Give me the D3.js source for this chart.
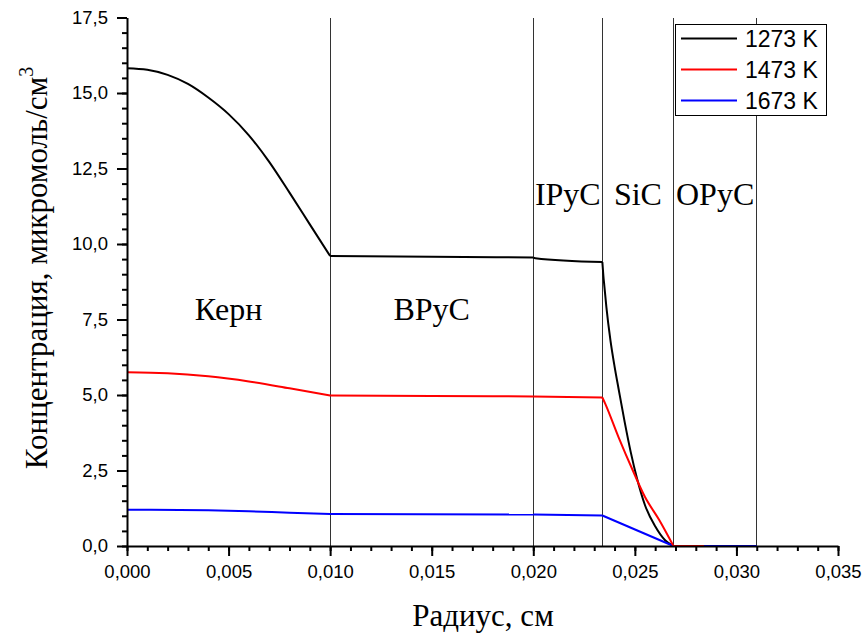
<!DOCTYPE html>
<html>
<head>
<meta charset="utf-8">
<script src="https://cdn.jsdelivr.net/npm/d3@7"></script>
<style>
  html, body { margin: 0; padding: 0; background: #fff; }
  svg { display: block; }
</style>
</head>
<body>
<svg id="chart" width="866" height="638"></svg>
<script>
// ---------- data ----------
const seriesNames = ["1273 K", "1473 K", "1673 K"];
const seriesColors = ["#000000", "#ff0000", "#0000ff"];

const r1273 = [0, 0.001, 0.002, 0.003, 0.004, 0.005, 0.006, 0.007, 0.008, 0.009, 0.010,
               0.015, 0.020, 0.0201, 0.0234, 0.02345, 0.0235, 0.0236, 0.0238, 0.0240, 0.0242,
               0.0245, 0.0248, 0.0251, 0.0255, 0.0260, 0.0265, 0.0269, 0.0284];
const c1273 = [15.82, 15.77, 15.6, 15.3, 14.85, 14.3, 13.6, 12.72, 11.7, 10.65, 9.6,
               9.58, 9.55, 9.53, 9.40, 8.95, 8.6, 7.9, 6.8, 5.95, 5.2,
               4.1, 3.1, 2.25, 1.35, 0.65, 0.18, 0, 0];

const r1473 = [0, 0.002, 0.004, 0.006, 0.008, 0.010, 0.015, 0.020, 0.0234, 0.02355,
               0.0242, 0.0249, 0.0255, 0.0262, 0.0269, 0.0284];
const c1473 = [5.75, 5.72, 5.62, 5.45, 5.22, 4.98, 4.97, 4.95, 4.92, 4.7,
               3.6, 2.5, 1.62, 0.86, 0, 0];

const r1673 = [0, 0.004, 0.006, 0.008, 0.010, 0.020, 0.0234, 0.0269, 0.031];
const c1673 = [1.2, 1.18, 1.15, 1.1, 1.06, 1.04, 1.01, 0, 0];

const layerBounds = [0, 0.010, 0.020, 0.0234, 0.0269, 0.031];
const layerNames = ["Керн", "BPyC", "IPyC", "SiC", "OPyC"];
const layerLabelY = [7.5, 7.5, 11.3, 11.3, 11.3];

const xTicks = [0, 0.005, 0.010, 0.015, 0.020, 0.025, 0.030, 0.035];
const yTicks = [0, 2.5, 5.0, 7.5, 10.0, 12.5, 15.0, 17.5];

// ---------- layout ----------
const svg = d3.select("#chart");
const mLeft = 127, mRight = 838, mTop = 17.5, mBottom = 546;

const x = d3.scaleLinear().domain([0, 0.035]).range([mLeft, mRight]);
const y = d3.scaleLinear().domain([0, 17.5]).range([mBottom, mTop]);

const fmtX = v => d3.format(".3f")(v).replace(".", ",");
const fmtY = v => d3.format(".1f")(v).replace(".", ",");

// layer boundary lines
svg.append("g").selectAll("line")
  .data(layerBounds.slice(1))
  .join("line")
  .attr("x1", d => x(d)).attr("x2", d => x(d))
  .attr("y1", y(17.5)).attr("y2", y(0))
  .attr("stroke", "#333").attr("stroke-width", 1)
  .attr("shape-rendering", "crispEdges");

// layer labels
svg.append("g").selectAll("text")
  .data(layerNames)
  .join("text")
  .attr("x", (d, i) => {
    const a = layerBounds[i], b = layerBounds[i + 1];
    return (x(a) + x(b)) / 2;
  })
  .attr("y", (d, i) => y(layerLabelY[i]))
  .attr("text-anchor", "middle")
  .attr("font-family", "'Liberation Serif', 'Times New Roman', serif")
  .attr("font-size", 32)
  .attr("fill", "#000")
  .text(d => d);

// series
const allSeries = [
  { name: seriesNames[0], color: seriesColors[0], r: r1273, c: c1273 },
  { name: seriesNames[2], color: seriesColors[2], r: r1673, c: c1673 },
  { name: seriesNames[1], color: seriesColors[1], r: r1473, c: c1473 }
];

const line = d3.line().x(d => x(d[0])).y(d => y(d[1])).curve(d3.curveMonotoneX);

allSeries.forEach(s => {
  const pts = s.r.map((rv, i) => [rv, s.c[i]]);
  for (let k = 0; k < layerBounds.length - 1; k++) {
    const a = layerBounds[k], b = layerBounds[k + 1];
    const seg = pts.filter(p => p[0] >= a - 1e-9 && p[0] <= b + 1e-9);
    if (seg.length < 2) continue;
    svg.append("path")
      .attr("d", line(seg))
      .attr("fill", "none")
      .attr("stroke", s.color)
      .attr("stroke-width", 2);
  }
});

// axes
const xAxis = d3.axisBottom(x).tickValues(xTicks).tickFormat(fmtX).tickSize(10).tickPadding(9);
const yAxis = d3.axisLeft(y).tickValues(yTicks).tickFormat(fmtY).tickSize(10).tickPadding(9);
const xMinor = d3.range(0, 36).map(i => i * 0.001);
const yMinor = d3.range(0, 36).map(i => i * 0.5);

const gx = svg.append("g").attr("transform", `translate(0,${mBottom})`);
gx.call(d3.axisBottom(x).tickValues(xMinor).tickFormat("").tickSize(5).tickSizeOuter(0));
gx.call(g => g.select(".domain").remove());
const gx2 = svg.append("g").attr("transform", `translate(0,${mBottom})`).call(xAxis.tickSizeOuter(0));

const gy = svg.append("g").attr("transform", `translate(${mLeft},0)`);
gy.call(d3.axisLeft(y).tickValues(yMinor).tickFormat("").tickSize(5).tickSizeOuter(0));
gy.call(g => g.select(".domain").remove());
const gy2 = svg.append("g").attr("transform", `translate(${mLeft},0)`).call(yAxis.tickSizeOuter(0));

[gx, gx2, gy, gy2].forEach(g => {
  g.selectAll("line").attr("stroke", "#000").attr("stroke-width", 2);
  g.selectAll(".domain").attr("stroke", "#000").attr("stroke-width", 2);
  g.selectAll("text")
    .attr("font-family", "'Liberation Sans', Arial, sans-serif")
    .attr("font-size", 18.5)
    .attr("fill", "#000");
});

// axis titles
svg.append("text")
  .attr("x", 483).attr("y", 626)
  .attr("text-anchor", "middle")
  .attr("font-family", "'Liberation Serif', 'Times New Roman', serif")
  .attr("font-size", 31)
  .text("Радиус, см");

const yt = svg.append("text")
  .attr("transform", "translate(47,268) rotate(-90)")
  .attr("text-anchor", "middle")
  .attr("font-family", "'Liberation Serif', 'Times New Roman', serif")
  .attr("font-size", 31);
yt.append("tspan").text("Концентрация, микромоль/см");
yt.append("tspan").attr("font-size", 20).attr("dy", -14).text("3");

// legend
const lg = svg.append("g");
lg.append("rect")
  .attr("x", 675.5).attr("y", 24.5).attr("width", 151).attr("height", 91)
  .attr("fill", "#fff").attr("stroke", "#000").attr("stroke-width", 1);
seriesNames.forEach((n, i) => {
  const yy = 38.5 + i * 31;
  lg.append("line")
    .attr("x1", 681).attr("x2", 737).attr("y1", yy).attr("y2", yy)
    .attr("stroke", seriesColors[i]).attr("stroke-width", 2);
  lg.append("text")
    .attr("x", 745).attr("y", yy + 8)
    .attr("font-family", "'Liberation Sans', Arial, sans-serif")
    .attr("font-size", 23)
    .text(n);
});
</script>
</body>
</html>
